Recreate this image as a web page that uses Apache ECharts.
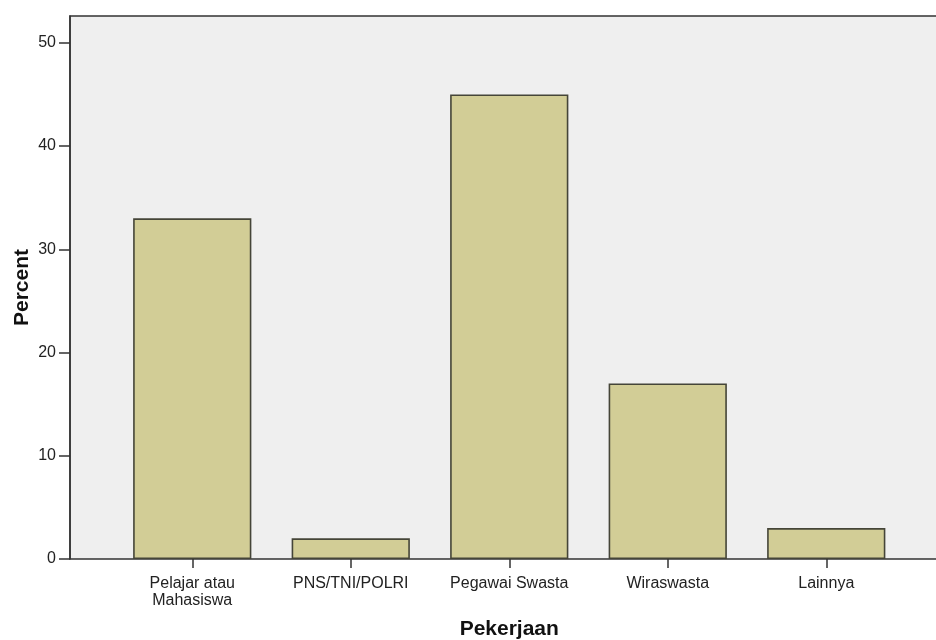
<!DOCTYPE html>
<html>
<head>
<meta charset="utf-8">
<script src="https://cdn.jsdelivr.net/npm/echarts@6/dist/echarts.min.js"></script>
<style>html,body{margin:0;padding:0;background:#fff}#c{width:936px;height:640px}</style>
</head>
<body>
<div id="c"></div>
<script>
var categories = ['Pelajar atau\nMahasiswa', 'PNS/TNI/POLRI', 'Pegawai Swasta', 'Wiraswasta', 'Lainnya'];
var percentValues = [33, 2, 45, 17, 3];
var yMin = 0, yMax = 52.6, yInterval = 10;
var xTitle = 'Pekerjaan';
var yTitle = 'Percent';

var font = '"Liberation Sans", Arial, Helvetica, sans-serif';
var chart = echarts.init(document.getElementById('c'), null, {renderer: 'canvas'});
chart.setOption({
  animation: false,
  backgroundColor: '#ffffff',
  grid: [
    {left: 70, top: 16, right: -4, bottom: 81, show: true, backgroundColor: '#efefef', borderColor: '#333', borderWidth: 1.5, containLabel: false, outerBoundsMode: 'none'},
    {left: 113, top: 16, right: 30.5, bottom: 81, containLabel: false, outerBoundsMode: 'none'}
  ],
  xAxis: [
    {gridIndex: 0, type: 'value', min: 0, max: 1, show: false},
    {gridIndex: 1, type: 'category', data: categories,
     axisLine: {show: false},
     axisTick: {show: true, alignWithLabel: true, inside: false, length: 9, lineStyle: {color: '#333', width: 1.5}},
     axisLabel: {color: '#222', fontFamily: font, fontSize: 16, margin: 16, lineHeight: 17, interval: 0},
     name: xTitle, nameLocation: 'middle', nameGap: 60, nameMoveOverlap: false,
     nameTextStyle: {color: '#111', fontFamily: font, fontSize: 21, fontWeight: 'bold'}}
  ],
  yAxis: [
    {gridIndex: 0, type: 'value', min: yMin, max: yMax, interval: yInterval,
     axisLine: {show: true, lineStyle: {color: '#333', width: 1.5}},
     axisTick: {show: true, length: 11, lineStyle: {color: '#333', width: 1.5}},
     axisLabel: {color: '#222', fontFamily: font, fontSize: 16, margin: 14,
       showMaxLabel: false, formatter: function(v){ return (v % 10 === 0) ? String(v) : ''; }},
     splitLine: {show: false},
     name: yTitle, nameLocation: 'middle', nameGap: 37, nameMoveOverlap: false,
     nameTextStyle: {color: '#111', fontFamily: font, fontSize: 21, fontWeight: 'bold'}},
    {gridIndex: 1, type: 'value', min: yMin, max: yMax, show: false, splitLine: {show: false}}
  ],
  series: [{
    type: 'bar', xAxisIndex: 1, yAxisIndex: 1,
    data: percentValues, barWidth: '74.6%',
    itemStyle: {color: '#d2cd96', borderColor: '#454538', borderWidth: 1.6}
  }]
});
</script>
</body>
</html>
